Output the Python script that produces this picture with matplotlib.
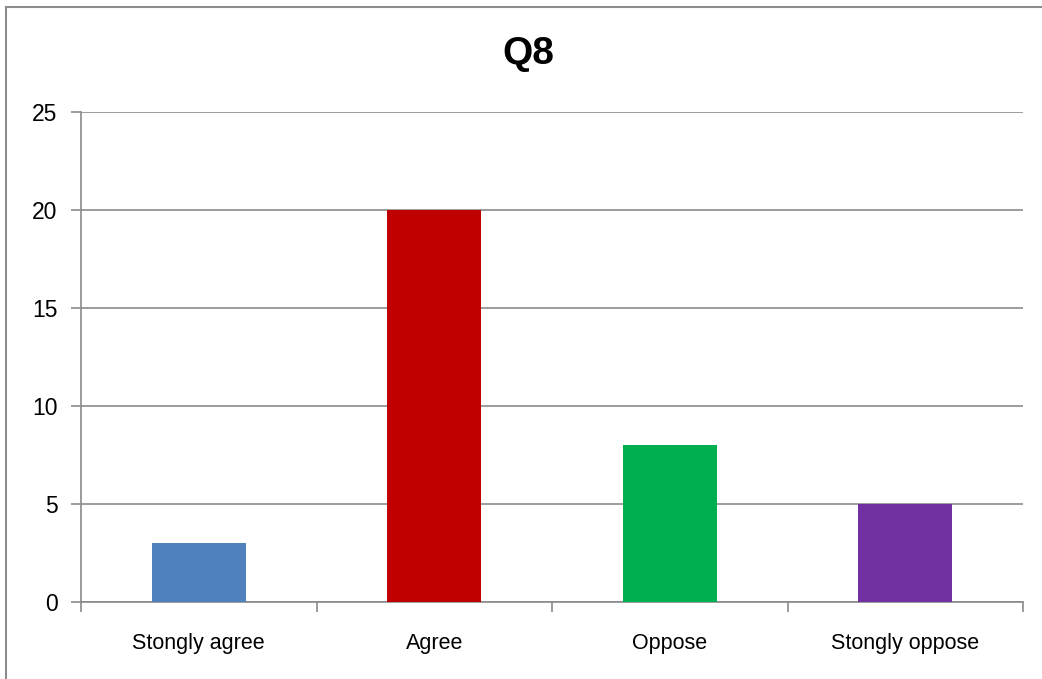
import matplotlib
matplotlib.use("Agg")
import matplotlib.pyplot as plt
import numpy as np
from matplotlib.patches import Rectangle

plt.rcParams['font.family'] = ['Liberation Sans', 'DejaVu Sans']

categories = ["Stongly agree", "Agree", "Oppose", "Stongly oppose"]
counts = [3, 20, 8, 5]
colors = ["#4F81BD", "#C00000", "#00B050", "#7030A0"]

fig = plt.figure(figsize=(10.42, 6.79), dpi=100)
# chart border like an office chart frame
fig.patches.append(Rectangle((6 / 1042, -0.1), 1.2, 1.1 - 7 / 679,
                             transform=fig.transFigure, fill=False,
                             edgecolor="#8c8c8c", linewidth=1.5))

ax = fig.add_axes([81 / 1042, 77 / 679, (1023 - 81) / 1042, (602 - 112) / 679])

x = np.arange(len(categories))
ax.bar(x, counts, width=0.4, color=colors, zorder=3)

ax.set_xlim(-0.5, len(categories) - 0.5)
ax.set_ylim(0, 25)
ax.set_yticks(np.arange(0, 26, 5))
ax.yaxis.grid(True, color="#8a8a8a", linewidth=1.2, zorder=0)

ax.set_xticks(x)
ax.set_xticklabels(categories, fontsize=15.5)
ax.tick_params(axis="x", length=0, pad=22)
ax.set_xticks(np.arange(-0.5, len(categories), 1), minor=True)
ax.tick_params(axis="x", which="minor", length=7, width=1.2, color="#8a8a8a")
ax.tick_params(axis="y", labelsize=16.5, length=7, width=1.2, color="#8a8a8a", pad=10)

for side in ["top", "right"]:
    ax.spines[side].set_visible(False)
for side in ["left", "bottom"]:
    ax.spines[side].set_color("#8a8a8a")
    ax.spines[side].set_linewidth(1.2)

fig.text(528 / 1042, 1 - 54 / 679, "Q8", ha="center", va="center",
         fontsize=28, fontweight="bold")

fig.savefig("out.png", dpi=100)
